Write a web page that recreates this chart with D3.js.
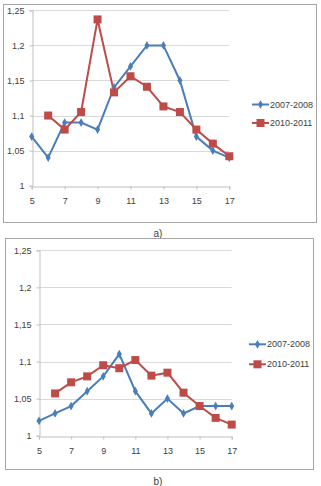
<!DOCTYPE html>
<html>
<head>
<meta charset="utf-8">
<script src="https://cdn.jsdelivr.net/npm/d3@7"></script>
<style>
  body { margin: 0; background: #fff; }
  svg text { font-family: "Liberation Sans Narrow", "Liberation Sans", Arial, sans-serif; font-size: 9px; fill: #404040; }
</style>
</head>
<body>
<svg id="chart" width="321" height="486"></svg>
<script>
var xTicks = [5, 7, 9, 11, 13, 15, 17];
var yTicks = [1, 1.05, 1.1, 1.15, 1.2, 1.25];
var seriesNames = ["2007-2008", "2010-2011"];

// panel a
var aYears1 = [5, 6, 7, 8, 9, 10, 11, 12, 13, 14, 15, 16, 17];
var aValues1 = [1.07, 1.04, 1.09, 1.09, 1.08, 1.14, 1.17, 1.2, 1.2, 1.15, 1.07, 1.05, 1.04];
var aYears2 = [6, 7, 8, 9, 10, 11, 12, 13, 14, 15, 16, 17];
var aValues2 = [1.1, 1.08, 1.105, 1.237, 1.133, 1.156, 1.141, 1.113, 1.105, 1.08, 1.06, 1.042];

// panel b
var bYears1 = [5, 6, 7, 8, 9, 10, 11, 12, 13, 14, 15, 16, 17];
var bValues1 = [1.02, 1.03, 1.04, 1.06, 1.08, 1.11, 1.06, 1.03, 1.05, 1.03, 1.04, 1.04, 1.04];
var bYears2 = [6, 7, 8, 9, 10, 11, 12, 13, 14, 15, 16, 17];
var bValues2 = [1.057, 1.072, 1.08, 1.095, 1.091, 1.102, 1.081, 1.085, 1.058, 1.04, 1.024, 1.015];

var blue = "#4a7ebb", red = "#be4b48";
var svg = d3.select("#chart");

function zip(xs, ys) {
  return xs.map(function(x, i) { return [x, ys[i]]; });
}

function panel(cfg) {
  var g = svg.append("g");

  // frame
  g.append("rect")
    .attr("x", cfg.box[0] + 0.5).attr("y", cfg.box[1] + 0.5)
    .attr("width", cfg.box[2]).attr("height", cfg.box[3])
    .attr("fill", "#fff").attr("stroke", "#a6a6a6");

  var xScale = d3.scaleLinear().domain([5, 17]).range([cfg.left, cfg.right]);
  var yScale = d3.scaleLinear().domain([1, 1.25]).range([cfg.bottom, cfg.top]);

  // gridlines
  g.selectAll(".grid")
    .data(yTicks.slice(1))
    .enter().append("line")
    .attr("x1", cfg.left).attr("x2", cfg.right)
    .attr("y1", function(d) { return Math.round(yScale(d)) + 0.5; })
    .attr("y2", function(d) { return Math.round(yScale(d)) + 0.5; })
    .attr("stroke", "#d9d9d9");

  var xAxis = d3.axisBottom(xScale)
    .tickValues(xTicks).tickSize(3).tickPadding(8)
    .tickFormat(d3.format("d"));
  var yAxis = d3.axisLeft(yScale)
    .tickValues(yTicks).tickSize(3).tickPadding(5)
    .tickFormat(function(d) { return String(d).replace(".", ","); });

  var gx = g.append("g")
    .attr("transform", "translate(0," + (Math.round(cfg.bottom) + 0.5) + ")")
    .call(xAxis);
  var gy = g.append("g")
    .attr("transform", "translate(" + (Math.round(cfg.left) + 0.5) + ",0)")
    .call(yAxis);
  [gx, gy].forEach(function(a) {
    a.select(".domain").attr("stroke", "#bfbfbf");
    a.selectAll(".tick line").attr("stroke", "#bfbfbf");
    a.selectAll("text").attr("fill", "#404040").style("font-size", "9px");
  });

  var line = d3.line()
    .x(function(d) { return xScale(d[0]); })
    .y(function(d) { return yScale(d[1]); });

  var s1 = zip(cfg.x1, cfg.v1), s2 = zip(cfg.x2, cfg.v2);

  g.append("path").datum(s1).attr("d", line)
    .attr("fill", "none").attr("stroke", blue).attr("stroke-width", 2);
  g.append("path").datum(s2).attr("d", line)
    .attr("fill", "none").attr("stroke", red).attr("stroke-width", 2);

  var diamond = d3.symbol().type(d3.symbolDiamond).size(22);
  g.selectAll(".d")
    .data(s1).enter().append("path")
    .attr("d", diamond)
    .attr("transform", function(d) { return "translate(" + xScale(d[0]) + "," + yScale(d[1]) + ")"; })
    .attr("fill", blue);

  g.selectAll(".sq")
    .data(s2).enter().append("rect")
    .attr("x", function(d) { return xScale(d[0]) - 4; })
    .attr("y", function(d) { return yScale(d[1]) - 4; })
    .attr("width", 8).attr("height", 8)
    .attr("fill", red);

  // legend
  var lg = g.append("g").attr("transform", "translate(" + cfg.legend[0] + "," + cfg.legend[1] + ")");
  var items = lg.selectAll("g").data(seriesNames).enter().append("g")
    .attr("transform", function(d, i) { return "translate(0," + i * cfg.legendGap + ")"; });
  items.append("line")
    .attr("x1", 0).attr("x2", 17).attr("y1", 0).attr("y2", 0)
    .attr("stroke", function(d, i) { return i ? red : blue; })
    .attr("stroke-width", 2);
  items.filter(function(d, i) { return i === 0; }).append("path")
    .attr("d", diamond).attr("transform", "translate(8.5,0)").attr("fill", blue);
  items.filter(function(d, i) { return i === 1; }).append("rect")
    .attr("x", 4.5).attr("y", -4).attr("width", 8).attr("height", 8).attr("fill", red);
  items.append("text")
    .attr("x", 18).attr("y", 0).attr("dy", "0.35em")
    .text(function(d) { return d; });

  svg.append("text")
    .attr("x", cfg.label[0]).attr("y", cfg.label[1])
    .attr("text-anchor", "middle")
    .style("font-size", "10px").attr("fill", "#000")
    .text(cfg.labelText);
}

panel({
  box: [3, 4, 313, 218],
  left: 31.7, right: 229.3, top: 10.3, bottom: 185.7,
  x1: aYears1, v1: aValues1, x2: aYears2, v2: aValues2,
  legend: [252, 104.5], legendGap: 18.5,
  label: [158, 236.5], labelText: "a)"
});

panel({
  box: [5, 238, 308, 231],
  left: 39, right: 231.7, top: 250.3, bottom: 435.7,
  x1: bYears1, v1: bValues1, x2: bYears2, v2: bValues2,
  legend: [249, 344.3], legendGap: 20,
  label: [158, 484.5], labelText: "b)"
});
</script>
</body>
</html>
